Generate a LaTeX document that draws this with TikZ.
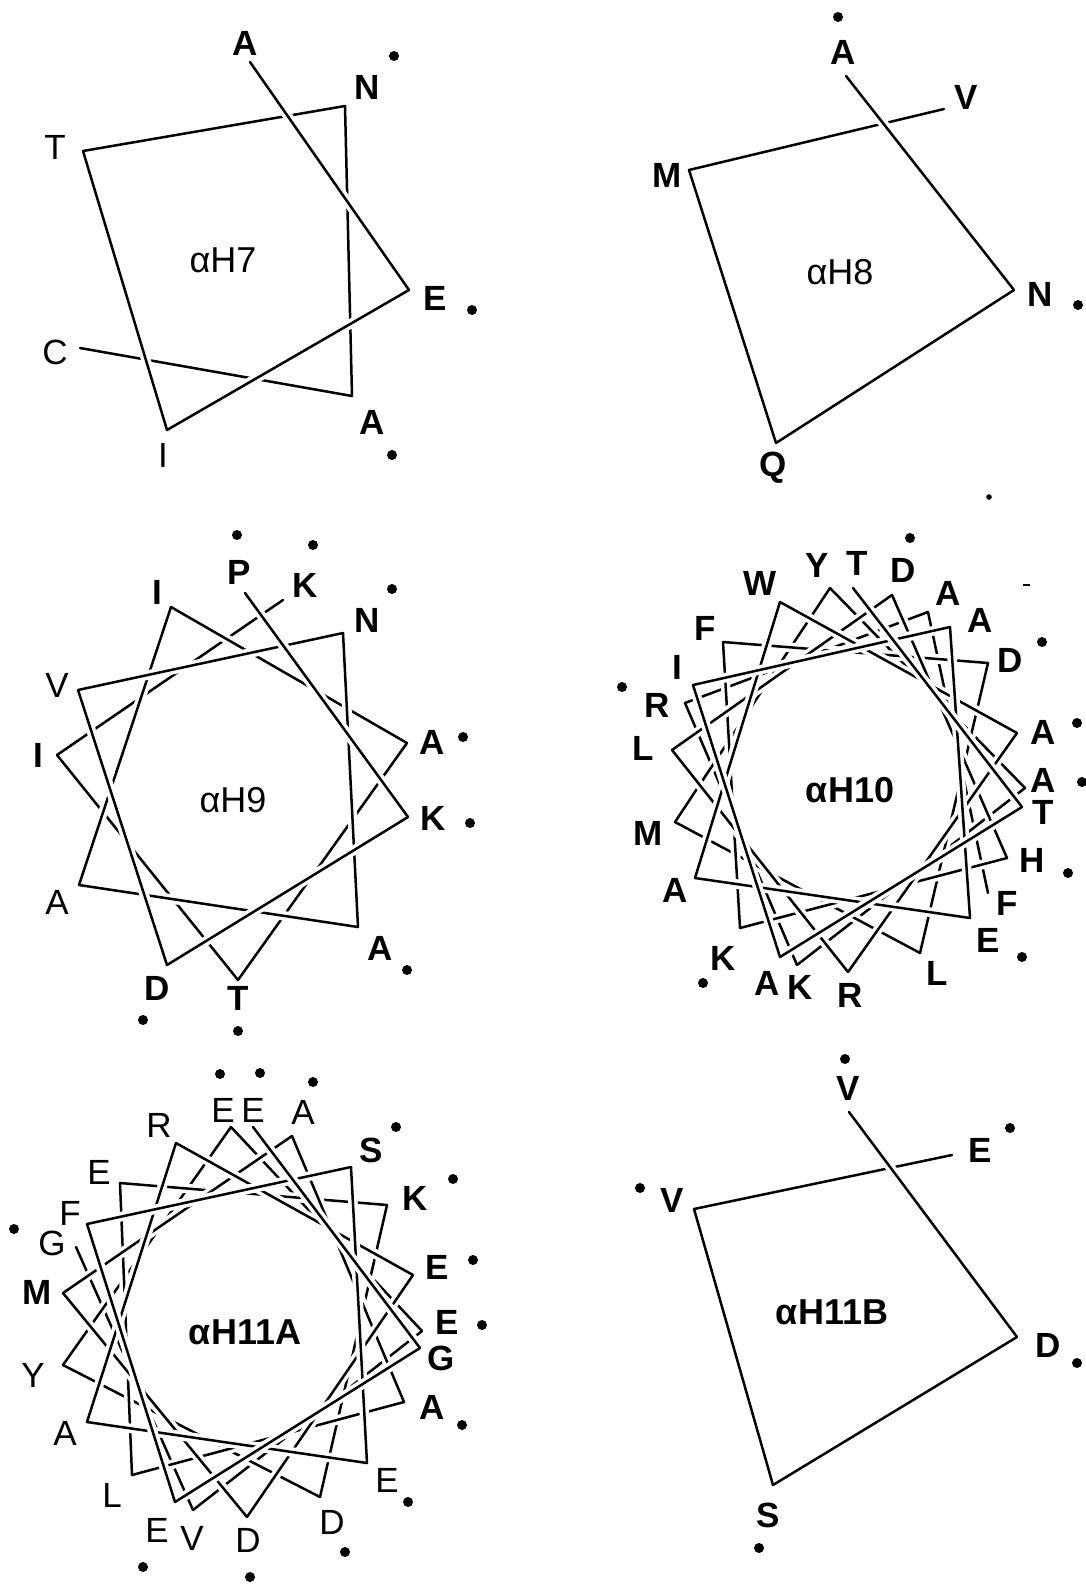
\documentclass[tikz,border=0pt]{standalone}
\usepackage{fontspec}
\setmainfont{Liberation Sans}
\tikzset{
 wl/.style={line width=1.25pt, line cap=round, line join=round},
 gapl/.style={white, line width=4.8pt, shorten <=5pt, shorten >=5pt},
 res/.style={inner sep=0pt, font=\fontsize{17.5pt}{18pt}\selectfont\bfseries},
 resl/.style={inner sep=0pt, font=\fontsize{17.5pt}{18pt}\selectfont},
 ttl/.style={inner sep=0pt, font=\fontsize{18pt}{19pt}\selectfont},
 ttlb/.style={inner sep=0pt, font=\fontsize{18pt}{19pt}\selectfont\bfseries},
 rdot/.style={radius=2.5pt},
}
\newcommand\wheelchain[2]{\foreach \k in {#2,...,1}{\pgfmathtruncatemacro\kp{\k-1}\draw[gapl] (#1-\kp) -- (#1-\k);\draw[wl] (#1-\kp) -- (#1-\k);}}
\begin{document}
\begin{tikzpicture}[x=0.5pt,y=-0.5pt]
\useasboundingbox (0,0) rectangle (1086,1590);
\fill[white] (0,0) rectangle (1086,1590);

% ---------------- alpha H7
\foreach \n/\px/\py in {0/250/62,1/409/290,2/167/430,3/83/151,4/345/106,5/352/396,6/80/348}
  \coordinate (a7-\n) at (\px,\py);
\wheelchain{a7}{6}
\node[res]  (a7l0) at (245,43) {A};
\node[res]  (a7l4) at (367,87) {N};
\node[resl] (a7l3) at (55,147) {T};
\node[res]  (a7l1) at (435,298) {E};
\node[resl] (a7l6) at (55,352) {C};
\node[resl] (a7l2) at (163,455) {I};
\node[res]  (a7l5) at (372,422) {A};
\node[ttl]  (a7t) at (223,260) {αH7};
\foreach \px/\py in {394/56,472/310,392/455} \fill (\px,\py) circle[rdot];

% ---------------- alpha H8
\foreach \n/\px/\py in {0/846/76,1/1014/290,2/776/443,3/689/170,4/944/109}
  \coordinate (a8-\n) at (\px,\py);
\wheelchain{a8}{4}
\node[res] (a8l0) at (843,52) {A};
\node[res] (a8l4) at (966,97) {V};
\node[res] (a8l3) at (667,175) {M};
\node[res] (a8l1) at (1040,294) {N};
\node[res] (a8l2) at (773,468) {Q};
\node[ttl] (a8t) at (840,272) {αH8};
\foreach \px/\py in {838/17,1078/305} \fill (\px,\py) circle[rdot];
\fill (989,497) circle[radius=1.4pt];

% ---------------- alpha H9
\foreach \n/\px/\py in {0/245/593,1/408/817,2/167/965,3/78/690,4/343/633,5/358/927,6/79/885,7/171/607,8/407/743,9/238/980,10/57/755,11/283/600}
  \coordinate (a9-\n) at (\px,\py);
\wheelchain{a9}{11}
\node[res]  (a9l0) at (239,572) {P};
\node[res]  (a9l11) at (305,585) {K};
\node[res]  (a9l4) at (367,620) {N};
\node[res]  (a9l7) at (157,592) {I};
\node[resl] (a9l3) at (57,685) {V};
\node[res]  (a9l10) at (38,755) {I};
\node[res]  (a9l8) at (432,742) {A};
\node[res]  (a9l1) at (433,818) {K};
\node[resl] (a9l6) at (57,902) {A};
\node[res]  (a9l5) at (380,948) {A};
\node[res]  (a9l2) at (157,988) {D};
\node[res]  (a9l9) at (238,998) {T};
\node[ttl]  (a9t) at (233,800) {αH9};
\foreach \px/\py in {237/535,313/545,392/589,463/737,470/823,407/970,143/1020,238/1031} \fill (\px,\py) circle[rdot];

% ---------------- alpha H10
\foreach \n/\px/\py in {0/853/588,1/1022/807,2/780/957,3/693/685,4/950/627,5/970/918,6/695/878,7/780/602,8/1017/733,9/848/972,10/672/750,11/892/595,12/1007/858,13/740/928,14/723/642,15/988/663,16/920/953,17/675/822,18/830/588,19/1025/788,20/797/965,21/685/703,22/928/612,23/988/893}
  \coordinate (a10-\n) at (\px,\py);
\wheelchain{a10}{23}
\node[res] (a10l7)  at (760,583) {W};
\node[res] (a10l18) at (817,565) {Y};
\node[res] (a10l0)  at (857,563) {T};
\node[res] (a10l11) at (903,570) {D};
\node[res] (a10l22) at (948,593) {A};
\node[res] (a10l4)  at (980,620) {A};
\node[res] (a10l15) at (1010,660) {D};
\node[res] (a10l8)  at (1043,732) {A};
\node[res] (a10l19) at (1043,780) {A};
\node[res] (a10l1)  at (1043,812) {T};
\node[res] (a10l12) at (1032,860) {H};
\node[res] (a10l23) at (1007,903) {F};
\node[res] (a10l5)  at (988,940) {E};
\node[res] (a10l16) at (937,973) {L};
\node[res] (a10l9)  at (850,995) {R};
\node[res] (a10l20) at (800,987) {K};
\node[res] (a10l2)  at (767,983) {A};
\node[res] (a10l13) at (723,958) {K};
\node[res] (a10l6)  at (675,890) {A};
\node[res] (a10l17) at (648,833) {M};
\node[res] (a10l10) at (643,748) {L};
\node[res] (a10l21) at (657,705) {R};
\node[res] (a10l3)  at (677,667) {I};
\node[res] (a10l14) at (705,628) {F};
\node[ttlb] (a10t) at (850,790) {αH10};
\foreach \px/\py in {910/538,1042/642,1077/723,1082/782,1068/873,1022/957,703/983,622/687} \fill (\px,\py) circle[rdot];
\draw[line width=1.3pt] (1023,585) -- (1030,585);

% ---------------- alpha H11A
\foreach \n/\px/\py in {0/253/1127,1/420/1348,2/175/1502,3/87/1224,4/351/1167,5/367/1463,6/87/1422,7/176/1143,8/413/1275,9/247/1517,10/63/1293,11/292/1136,12/404/1402,13/132/1475,14/120/1183,15/387/1205,16/320/1497,17/63/1365,18/231/1127,19/422/1331,20/193/1510,21/76/1247}
  \coordinate (a11-\n) at (\px,\py);
\wheelchain{a11}{21}
\node[resl] (a11l18) at (223,1110) {E};
\node[resl] (a11l0)  at (253,1110) {E};
\node[resl] (a11l11) at (303,1112) {A};
\node[resl] (a11l7)  at (159,1125) {R};
\node[res]  (a11l4)  at (371,1150) {S};
\node[resl] (a11l14) at (99,1172) {E};
\node[res]  (a11l15) at (415,1198) {K};
\node[resl] (a11l3)  at (70,1213) {F};
\node[resl] (a11l21) at (52,1243) {G};
\node[res]  (a11l8)  at (437,1267) {E};
\node[res]  (a11l10) at (37,1292) {M};
\node[res]  (a11l19) at (447,1322) {E};
\node[res]  (a11l1)  at (441,1358) {G};
\node[resl] (a11l17) at (33,1375) {Y};
\node[res]  (a11l12) at (432,1407) {A};
\node[resl] (a11l6)  at (65,1433) {A};
\node[resl] (a11l5)  at (387,1480) {E};
\node[resl] (a11l13) at (112,1495) {L};
\node[resl] (a11l16) at (332,1522) {D};
\node[resl] (a11l2)  at (157,1530) {E};
\node[resl] (a11l20) at (192,1538) {V};
\node[resl] (a11l9)  at (248,1540) {D};
\node[ttlb] (a11t) at (245,1332) {αH11A};
\foreach \px/\py in {220/1074,260/1073,313/1082,396/1127,453/1179,14/1229,473/1260,482/1325,462/1425,408/1502,345/1552,250/1577,143/1567} \fill (\px,\py) circle[rdot];

% ---------------- alpha H11B
\foreach \n/\px/\py in {0/849/1112,1/1017/1337,2/773/1485,3/694/1209,4/952/1155}
  \coordinate (a11b-\n) at (\px,\py);
\wheelchain{a11b}{4}
\node[res] (a11bl0) at (848,1088) {V};
\node[res] (a11bl4) at (980,1150) {E};
\node[res] (a11bl3) at (672,1200) {V};
\node[res] (a11bl1) at (1048,1345) {D};
\node[res] (a11bl2) at (768,1515) {S};
\node[ttlb] (a11bt) at (832,1312) {αH11B};
\foreach \px/\py in {845/1059,1010/1128,640/1188,1077/1363,759/1548} \fill (\px,\py) circle[rdot];
\end{tikzpicture}
\end{document}
